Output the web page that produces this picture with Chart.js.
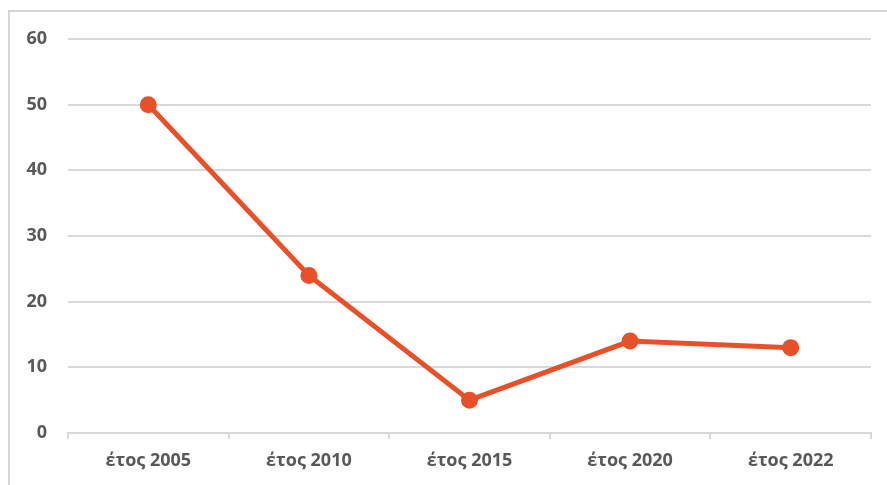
<!DOCTYPE html>
<html><head><meta charset="utf-8">
<script src="https://cdn.jsdelivr.net/npm/chart.js@4/dist/chart.umd.min.js"></script>
<style>
html,body{margin:0;padding:0;background:#fff;}
#wrap{position:relative;width:887px;height:485px;overflow:hidden;}
#frame{position:absolute;left:8px;top:10px;width:900px;height:500px;border-top:2px solid #d6d6d6;border-left:2px solid #d6d6d6;}
canvas{position:absolute;left:0;top:0;}
</style></head>
<body><div id="wrap"><div id="frame"></div><canvas id="c" width="887" height="485"></canvas></div>
<script>
const categories = ["έτος 2005","έτος 2010","έτος 2015","έτος 2020","έτος 2022"];
const values = [50,24,5,14,13];
const yTicks = [0,10,20,30,40,50,60];

const lineColor = '#E8502A';
const gridColor = '#d9d9d9';
const textColor = '#595959';
new Chart(document.getElementById('c'),{
  type:'line',
  data:{labels:categories,datasets:[{data:values,borderColor:lineColor,backgroundColor:lineColor,borderWidth:5,pointRadius:6,pointHoverRadius:6,tension:0}]},
  options:{
    responsive:false,animation:false,
    layout:{padding:{top:39,right:16,left:0,bottom:0}},
    plugins:{legend:{display:false},tooltip:{enabled:false}},
    scales:{
      x:{offset:true,
        grid:{offset:true,drawOnChartArea:false,drawTicks:true,tickLength:6,color:gridColor,lineWidth:2},
        border:{display:true,color:gridColor,width:2},
        ticks:{color:textColor,font:{family:'Open Sans',size:18,weight:'bold'},padding:11},
        afterFit:s=>{s.height=52;}
      },
      y:{min:0,max:60,
        afterBuildTicks:s=>{s.ticks=yTicks.map(v=>({value:v}));},
        grid:{color:gridColor,lineWidth:2,drawTicks:false},
        border:{display:false},
        ticks:{color:textColor,font:{family:'Open Sans',size:18,weight:'bold'},padding:21},
        afterFit:s=>{s.width=68;}
      }
    }
  }
});
</script></body></html>
